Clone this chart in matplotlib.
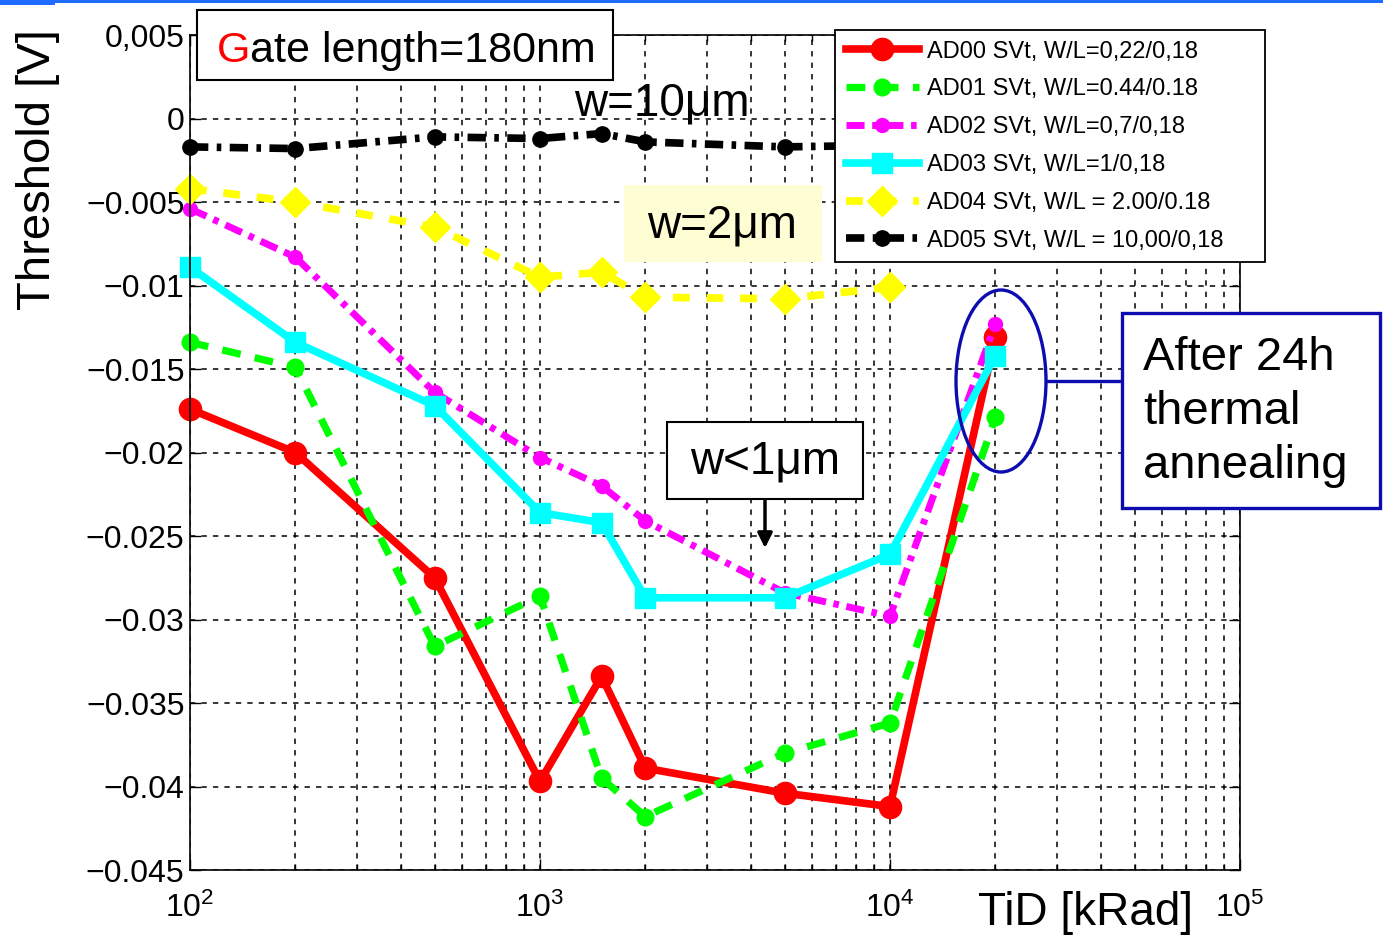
import matplotlib
matplotlib.use('Agg')
import matplotlib.pyplot as plt
from matplotlib.patches import Rectangle, Ellipse, FancyArrowPatch
from matplotlib.lines import Line2D
from matplotlib.text import Annotation
from matplotlib.ticker import FixedLocator, FixedFormatter, NullLocator, LogLocator

plt.rcParams['font.family'] = ['Liberation Sans', 'DejaVu Sans']
plt.rcParams['mathtext.default'] = 'regular'

# data
tid = [100, 200, 500, 1000, 1500, 2000, 5000, 10000, 20000]
ad00 = [-0.0174, -0.0200, -0.0275, -0.0397, -0.0334, -0.0389, -0.0404, -0.0412, -0.0131]
ad01 = [-0.0134, -0.0149, -0.0316, -0.0286, -0.0395, -0.0418, -0.0380, -0.0362, -0.0179]
ad02 = [-0.0054, -0.0083, -0.0164, -0.0203, -0.0220, -0.0241, -0.0284, -0.0298, -0.0123]
ad03 = [-0.0089, -0.0134, -0.0172, -0.0236, -0.0242, -0.0287, -0.0287, -0.0261, -0.0142]
ad04 = [-0.0042, -0.0050, -0.0065, -0.0095, -0.0092, -0.0107, -0.0108, -0.0101]
ad05 = [-0.0017, -0.0018, -0.0011, -0.0012, -0.0009, -0.0014, -0.0017, -0.0016]

labels = ['AD00 SVt, W/L=0,22/0,18', 'AD01 SVt, W/L=0.44/0.18',
          'AD02 SVt, W/L=0,7/0,18', 'AD03 SVt, W/L=1/0,18',
          'AD04 SVt, W/L = 2.00/0.18', 'AD05 SVt, W/L = 10,00/0,18']

ytick_vals = [0.005, 0, -0.005, -0.01, -0.015, -0.02, -0.025, -0.03, -0.035, -0.04, -0.045]
ytick_labels = ['0,005', '0', '\u22120.005', '\u22120.01', '\u22120.015', '\u22120.02',
                '\u22120.025', '\u22120.03', '\u22120.035', '\u22120.04', '\u22120.045']
xtick_vals = [1e2, 1e3, 1e4, 1e5]
xtick_labels = ['$10^{2}$', '$10^{3}$', '$10^{4}$', '$10^{5}$']

W, H = 1383, 941
fig = plt.figure(figsize=(W / 100, H / 100), dpi=100)


def fx(x):
    return x / W


def fy(y):
    return 1 - y / H


ax = fig.add_axes([fx(190), fy(870), fx(1240) - fx(190), fy(35) - fy(870)])

series = [
    (ad00, dict(color='#FF0000', lw=5.5, ls='-', marker='o', ms=16)),
    (ad01, dict(color='#00FF00', lw=5.2, dashes=(2.6, 2.0), marker='o', ms=12)),
    (ad02, dict(color='#FF00FF', lw=5, dashes=(2.6, 1.1, 0.8, 1.1), marker='o', ms=10)),
    (ad03, dict(color='#00FFFF', lw=5.5, ls='-', marker='s', ms=15)),
    (ad04, dict(color='#FFFF00', lw=5.5, dashes=(2.2, 2.2), marker='D', ms=15)),
    (ad05, dict(color='#000000', lw=5.5, dashes=(2.4, 1.1, 0.6, 1.1), marker='o', ms=11)),
]

handles = []
for vals, st in series:
    ln, = ax.plot(tid[:len(vals)], vals, clip_on=False, **st)
    handles.append(ln)

ax.set_xscale('log')
ax.set_xlim(1e2, 1e5)
ax.set_ylim(-0.045, 0.005)
ax.xaxis.set_major_locator(FixedLocator(xtick_vals))
ax.xaxis.set_major_formatter(FixedFormatter(xtick_labels))
ax.xaxis.set_minor_locator(LogLocator(base=10, subs=range(2, 10)))
ax.yaxis.set_major_locator(FixedLocator(ytick_vals))
ax.yaxis.set_major_formatter(FixedFormatter(ytick_labels))
ax.yaxis.set_minor_locator(NullLocator())

gstyle = dict(color='black', lw=1.1, ls=(0, (3.5, 4)))
ax.grid(True, which='major', axis='both', **gstyle)
ax.xaxis.grid(True, which='minor', **gstyle)
ax.set_axisbelow(True)

ax.tick_params(which='both', direction='in', top=True, right=True, labelsize=23)
ax.tick_params(which='major', length=8, width=1)
ax.tick_params(which='minor', length=4, width=1)
ax.tick_params(axis='y', pad=4)
ax.tick_params(axis='x', pad=16)
for sp in ax.spines.values():
    sp.set_linewidth(1.2)

leg = ax.legend(handles, labels, loc='upper left',
                bbox_to_anchor=(fx(835), 0, fx(1265) - fx(835), fy(30)),
                bbox_transform=fig.transFigure, mode='expand', borderaxespad=0,
                fontsize=17, handlelength=3.1, handletextpad=0.35,
                labelspacing=0.67, borderpad=0.45, fancybox=False,
                framealpha=1, edgecolor='black')
leg.get_frame().set_linewidth(1.3)

# axis labels
fig.text(fx(38), fy(170), 'Threshold [V]', rotation=90, ha='center', va='center', fontsize=34)
fig.text(fx(1085), fy(913), 'TiD [kRad]', ha='center', va='center', fontsize=33)

# slide header line
fig.add_artist(Rectangle((0, fy(3)), 1, 3 / H, transform=fig.transFigure,
                         color='#1E6BFF', lw=0, zorder=5))
fig.add_artist(Rectangle((0, fy(5)), fx(55), 5 / H, transform=fig.transFigure,
                         color='#1E6BFF', lw=0, zorder=5))

# gate length box
fig.add_artist(Rectangle((fx(197), fy(80)), (613 - 197) / W, 70 / H, transform=fig.transFigure,
                         fc='white', ec='black', lw=1.5, zorder=2))
tg = fig.text(fx(217), fy(62), 'G', color='red', fontsize=31, ha='left', va='baseline', zorder=4)
ann = Annotation('ate length=180nm', xy=(1, 0), xycoords=tg, ha='left', va='bottom',
                 fontsize=31, zorder=4)
fig.add_artist(ann)

# width notes
fig.text(fx(662), fy(103), 'w=10\u03bcm', ha='center', va='center', fontsize=33, zorder=4)
fig.add_artist(Rectangle((fx(624), fy(262)), (822 - 624) / W, 77 / H, transform=fig.transFigure,
                         fc='#FFFDD3', ec='none', zorder=2))
fig.text(fx(722), fy(226), 'w=2\u03bcm', ha='center', va='center', fontsize=33, zorder=4)
fig.add_artist(Rectangle((fx(667), fy(499)), (863 - 667) / W, 77 / H, transform=fig.transFigure,
                         fc='white', ec='black', lw=1.5, zorder=2))
fig.text(fx(765), fy(462), 'w<1\u03bcm', ha='center', va='center', fontsize=33, zorder=4)
fig.add_artist(FancyArrowPatch((fx(765), fy(500)), (fx(765), fy(548)), transform=fig.transFigure,
                               arrowstyle='-|>', mutation_scale=22, lw=2.5, color='black',
                               shrinkA=0, shrinkB=0, zorder=4))

# annealing callout
blue = '#0C0CB0'
fig.add_artist(Ellipse((fx(1001), fy(381)), 90 / W, 182 / H, transform=fig.transFigure,
                       fill=False, ec=blue, lw=2.4, zorder=4))
fig.add_artist(Line2D([fx(1047), fx(1122)], [fy(381), fy(381)], transform=fig.transFigure,
                      color=blue, lw=2.4, zorder=4))
fig.add_artist(Rectangle((fx(1122), fy(508)), (1380 - 1122) / W, 195 / H, transform=fig.transFigure,
                         fc='white', ec=blue, lw=2.4, zorder=4))
fig.text(fx(1143), fy(412), 'After 24h\nthermal\nannealing', ha='left', va='center',
         fontsize=34, linespacing=1.3, zorder=5)

fig.savefig('out.png', dpi=100)
